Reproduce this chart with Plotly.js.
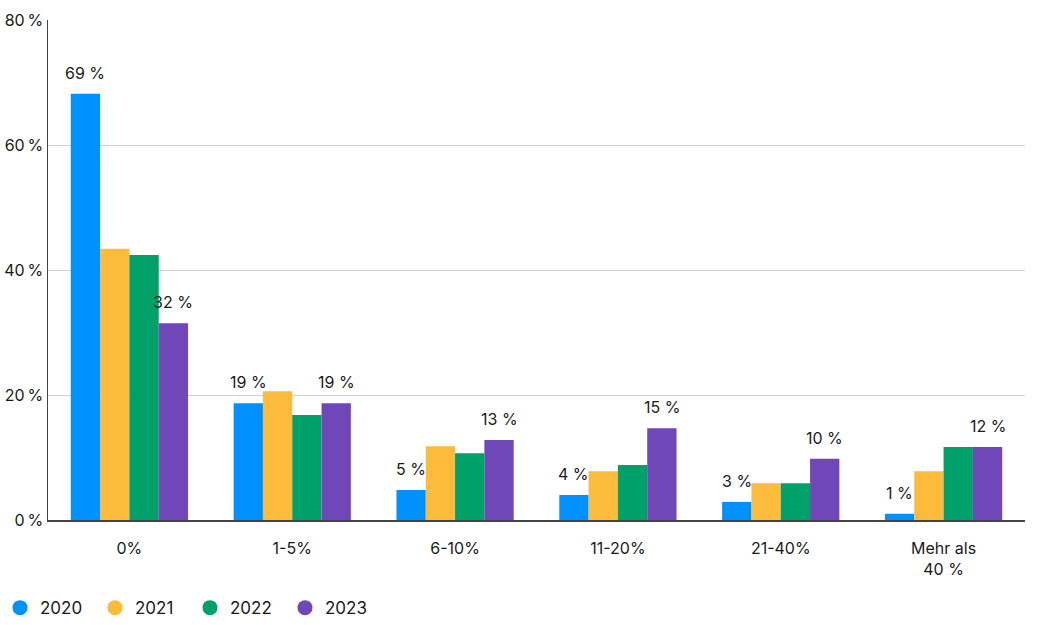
<!DOCTYPE html>
<html><head><meta charset="utf-8">
<script src="https://cdn.plot.ly/plotly-3.0.1.min.js"></script>
<style>html,body{margin:0;padding:0;background:#fff}#chart{width:1042px;height:625px}</style>
</head><body><div id="chart"></div>
<script>
const categories = ["0%", "1-5%", "6-10%", "11-20%", "21-40%", "Mehr als<br>40 %"];
const years = ["2020", "2021", "2022", "2023"];
const values2020 = [68.2, 18.7, 4.8, 4.0, 2.9, 1.0];
const values2021 = [43.4, 20.6, 11.8, 7.8, 5.9, 7.8];
const values2022 = [42.4, 16.8, 10.7, 8.8, 5.9, 11.7];
const values2023 = [31.5, 18.7, 12.8, 14.7, 9.8, 11.7];
const labels2020 = ["69 %", "19 %", "5 %", "4 %", "3 %", "1 %"];
const labels2023 = ["32 %", "19 %", "13 %", "15 %", "10 %", "12 %"];
const colors = ["#0091ff", "#fdbb3b", "#00a06b", "#7047b8"];
const yTicks = [0, 20, 40, 60, 80];

const series = [values2020, values2021, values2022, values2023];
const font = {family: "Inter, 'Liberation Sans', sans-serif", size: 16, color: "#1a1a1a"};
const bargap = 0.28;
const barW = (1 - bargap) / series.length;

const traces = [];
series.forEach((vals, i) => {
  traces.push({
    type: "bar", x: categories.map((c, k) => k), y: vals, name: years[i],
    marker: {color: colors[i], line: {width: 0}},
    hoverinfo: "y", showlegend: false
  });
});
years.forEach((yr, i) => {
  traces.push({
    type: "scatter", mode: "markers", x: [null], y: [null], name: yr,
    marker: {color: colors[i], size: 15, symbol: "circle"}, showlegend: true
  });
});

// value labels above the 2020 and 2023 bars
const annotations = [];
[[0, values2020, labels2020], [3, values2023, labels2023]].forEach(([si, vals, labs]) => {
  const off = (si - (series.length - 1) / 2) * barW;
  vals.forEach((v, k) => {
    annotations.push({
      x: k + off, y: v, xref: "x", yref: "y", text: labs[k], showarrow: false,
      yanchor: "bottom", xanchor: "center", yshift: 9, font: font
    });
  });
});

const layout = {
  width: 1042, height: 625,
  margin: {l: 48, r: 17, t: 20, b: 105},
  paper_bgcolor: "#fff", plot_bgcolor: "#fff",
  font: font,
  barmode: "group", bargap: bargap, bargroupgap: 0,
  annotations: annotations,
  xaxis: {
    type: "linear", range: [-0.5, categories.length - 0.5],
    tickvals: categories.map((c, k) => k), ticktext: categories,
    showgrid: false, showline: true, linecolor: "#444", linewidth: 1.5, zeroline: false,
    ticks: "", ticklabelstandoff: 13, tickfont: font, fixedrange: true, automargin: false
  },
  yaxis: {
    range: [0, 80], tickvals: yTicks, ticktext: yTicks.map(v => v + "\u2009%"),
    showgrid: true, gridcolor: "#cfcfcf", gridwidth: 1,
    showline: true, linecolor: "#444", linewidth: 1.5,
    zeroline: false, ticks: "", ticklabelstandoff: 0, tickfont: font, fixedrange: true, automargin: false
  },
  legend: {
    orientation: "h", x: -0.062, xanchor: "left", yref: "container", y: 0.027, yanchor: "middle",
    font: Object.assign({}, font, {size: 17}), traceorder: "normal", itemclick: false,
    entrywidth: 50, entrywidthmode: "pixels"
  },
  showlegend: true
};

Plotly.newPlot("chart", traces, layout, {displayModeBar: false, staticPlot: true});
</script>
</body></html>
